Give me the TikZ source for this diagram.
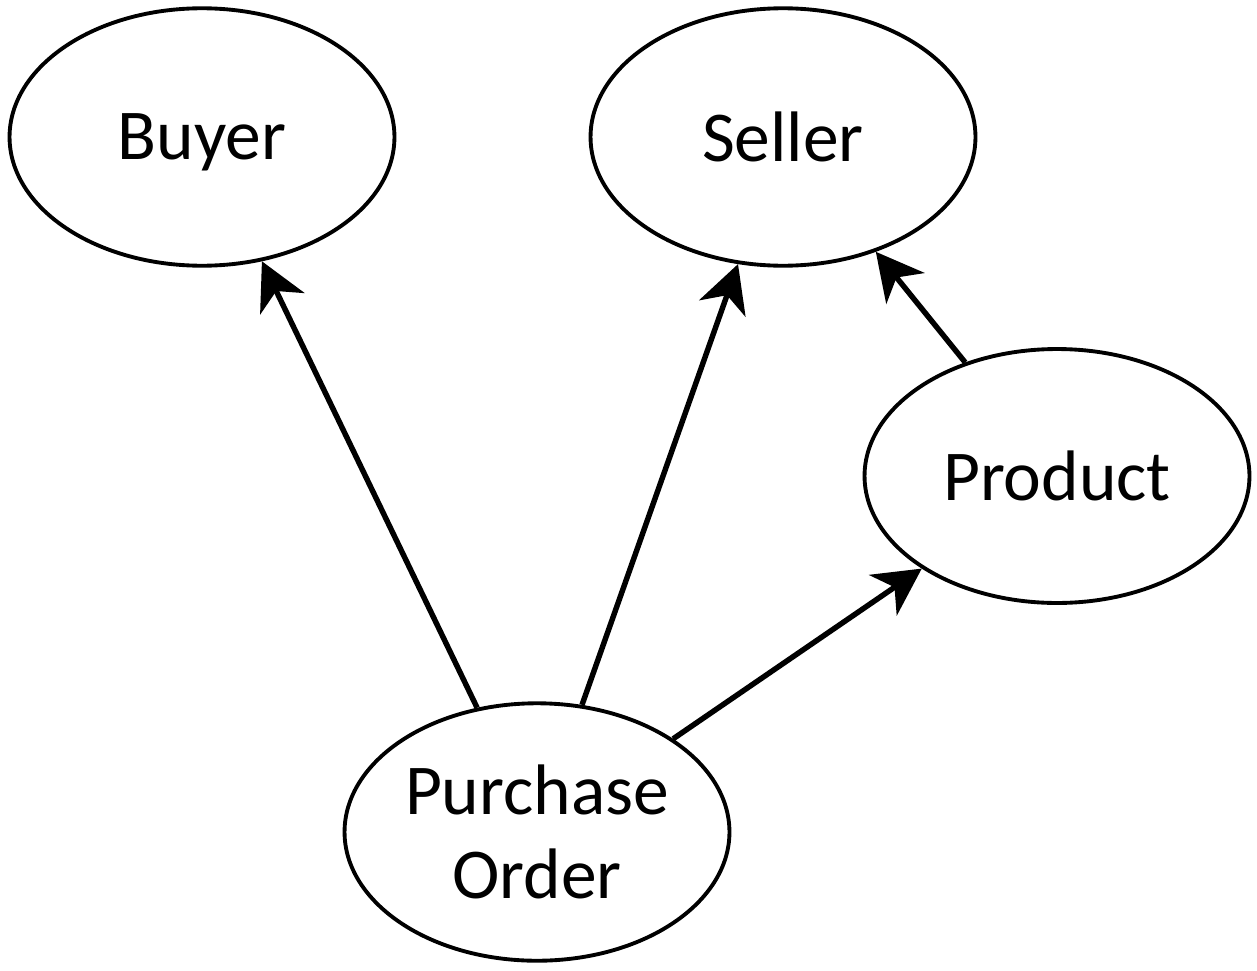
\documentclass[tikz,border=0pt]{standalone}
\usepackage{fontspec}
\setmainfont{Carlito}
\usetikzlibrary{shapes.geometric,arrows.meta}
\begin{document}
\begin{tikzpicture}[x=0.02cm,y=-0.02cm,
  entity/.style={ellipse,draw=black,line width=2.2pt,inner sep=0pt,
    minimum width=7.7cm,minimum height=5.15cm,align=center,
    font=\fontsize{40.7}{48.2}\selectfont},
  link/.style={line width=3.1pt,-{Stealth[length=0.94cm,width=0.98cm,inset=0.28cm]}}]
\useasboundingbox (0,0) rectangle (1257,970);
\node[entity,text depth=0pt] (buyer) at (202,137) {Buyer};
\node[entity] (seller) at (783,137) {Seller};
\node[entity,minimum height=5.08cm] (product) at (1057,476) {Product};
\node[entity] (po) at (537,832) {Purchase\\Order};
\draw[link] (po) -- (buyer);
\draw[link] (po) -- (seller);
\draw[link] (po) -- (product);
\draw[link] (product) -- (seller);
\end{tikzpicture}
\end{document}
